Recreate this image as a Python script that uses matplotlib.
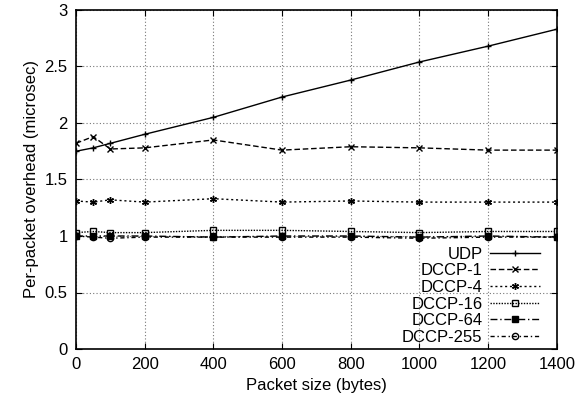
import matplotlib
matplotlib.use('Agg')
import matplotlib.pyplot as plt

plt.rcParams['font.family'] = ['Liberation Sans', 'DejaVu Sans']

# Packet sizes (bytes)
sizes = [0, 50, 100, 200, 400, 600, 800, 1000, 1200, 1400]

# Per-packet overhead (microsec)
udp = [1.75, 1.78, 1.82, 1.90, 2.05, 2.23, 2.38, 2.54, 2.68, 2.83]
dccp_1 = [1.82, 1.88, 1.77, 1.78, 1.85, 1.76, 1.79, 1.78, 1.76, 1.76]
dccp_4 = [1.31, 1.30, 1.32, 1.30, 1.33, 1.30, 1.31, 1.30, 1.30, 1.30]
dccp_16 = [1.03, 1.04, 1.03, 1.03, 1.05, 1.05, 1.04, 1.03, 1.04, 1.04]
dccp_64 = [1.00, 1.00, 1.00, 1.00, 0.99, 1.00, 1.00, 0.99, 1.00, 0.99]
dccp_255 = [1.00, 0.99, 0.98, 0.99, 0.99, 0.99, 0.99, 0.98, 0.99, 0.99]

labels = ['UDP', 'DCCP-1', 'DCCP-4', 'DCCP-16', 'DCCP-64', 'DCCP-255']
series = [udp, dccp_1, dccp_4, dccp_16, dccp_64, dccp_255]
styles = [
    dict(ls='-', marker='+', ms=5, mfc='black'),
    dict(ls=(0, (4, 2)), marker='x', ms=5, mfc='black'),
    dict(ls=(0, (1.5, 2)), marker=(6, 2, 0), ms=5, mfc='black'),
    dict(ls=(0, (1, 1)), marker='s', ms=4.5, mfc='none'),
    dict(ls=(0, (5, 2, 1, 2)), marker='s', ms=4.5, mfc='black'),
    dict(ls=(0, (3, 2, 1, 2)), marker='o', ms=4.5, mfc='none'),
]

fig = plt.figure(figsize=(5.8, 4.0), dpi=100)
ax = fig.add_axes([0.131, 0.1275, 0.829, 0.8475])

for y, lab, st in zip(series, labels, styles):
    ax.plot(sizes, y, color='black', lw=1.0, mec='black', mew=1.0, label=lab, **st)

ax.set_xlim(0, 1400)
ax.set_ylim(0, 3)
ax.set_xticks([0, 200, 400, 600, 800, 1000, 1200, 1400])
ax.set_yticks([0, 0.5, 1, 1.5, 2, 2.5, 3])
ax.set_yticklabels(['0', '0.5', '1', '1.5', '2', '2.5', '3'])
ax.tick_params(direction='in', top=True, right=True, labelsize=12, length=4, pad=6)
ax.grid(True, color='#777777', ls=(0, (1, 2)), lw=0.8)
for sp in ax.spines.values():
    sp.set_linewidth(1.2)

ax.set_xlabel('Packet size (bytes)', fontsize=12, labelpad=4)
ax.set_ylabel('Per-packet overhead (microsec)', fontsize=12)

leg = ax.legend(loc='lower right', bbox_to_anchor=(0.965, 0.012), frameon=False,
                markerfirst=False, fontsize=12, handlelength=3.0, labelspacing=0.1,
                borderaxespad=0, borderpad=0, handletextpad=0.45)
for t in leg.get_texts():
    t.set_ha('right')

fig.savefig('out.png', dpi=100)
